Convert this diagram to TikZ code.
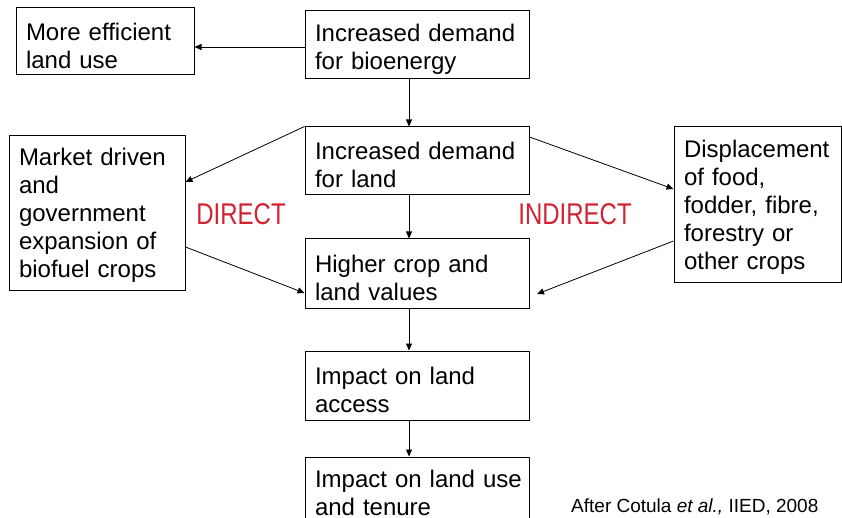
\documentclass[tikz,border=0pt]{standalone}
\usepackage{fontspec}
\setmainfont{Liberation Sans}
\usetikzlibrary{arrows.meta}
\definecolor{dirred}{RGB}{210,35,50}
\newcommand{\dn}{\rule{0pt}{26pt}}
\begin{document}
\begin{tikzpicture}[x=1pt,y=-1pt,
  box/.style={draw=black,line width=1pt,rectangle,align=left,inner xsep=10pt,inner ysep=0pt,
    font=\fontsize{24}{28}\selectfont},
  conn/.style={line width=0.8pt,-{Triangle[length=7pt,width=6pt]}},
  tag/.style={text=dirred,font=\fontsize{30}{32}\selectfont,xscale=0.8,inner sep=0pt}]
\useasboundingbox (0,0) rectangle (842,518);
\clip (0,0) rectangle (842,518);
\node[box,minimum width=178pt,minimum height=67pt,text width=158pt] (eff) at (105,41.5) {\dn More efficient\\land use};
\node[box,minimum width=224pt,minimum height=68pt,text width=204pt] (bio) at (417,45) {\dn Increased demand\\for bioenergy};
\node[box,minimum width=224pt,minimum height=68pt,text width=204pt] (land) at (417,161) {\dn Increased demand\\for land};
\node[box,minimum width=176pt,minimum height=154pt,text width=156pt] (mkt) at (97,213) {\rule{0pt}{22pt}Market driven\\and\\government\\expansion of\\biofuel crops};
\node[box,minimum width=167pt,minimum height=155pt,text width=147pt] (disp) at (757.5,204.5) {\rule{0pt}{22pt}Displacement\\of food,\\fodder, fibre,\\forestry or\\other crops};
\node[box,minimum width=224pt,minimum height=69pt,text width=204pt] (high) at (417,273.5) {\dn Higher crop and\\land values};
\node[box,minimum width=224pt,minimum height=69pt,text width=204pt] (acc) at (417,385.5) {\dn Impact on land\\access};
\node[box,minimum width=224pt,minimum height=72pt,text width=204pt] (use) at (417,493) {\mbox{Impact on land use}\\and tenure};
\node[tag] (direct) at (241,214) {DIRECT};
\node[tag] (indirect) at (575,214) {INDIRECT};
\node[anchor=base west,inner sep=0pt,font=\fontsize{19}{22}\selectfont] (cite) at (571,512) {After Cotula \textit{et al.,} IIED, 2008};
\draw[conn] (bio.west |- 0,47) -- (eff.east |- 0,47);
\draw[conn] ([xshift=-8pt]bio.south) -- ([xshift=-8pt]land.north);
\draw[conn] (land.north west) -- (mkt.east |- 0,182);
\draw[conn] ([xshift=-8pt]land.south) -- ([xshift=-8pt]high.north);
\draw[conn] (mkt.east |- 0,247) -- (high.west |- 0,293);
\draw[conn] (land.east |- 0,137) -- (disp.west |- 0,189);
\coordinate (hr) at (537,294);
\draw[conn] (disp.west |- 0,241) -- (hr);
\draw[conn] ([xshift=-8pt]high.south) -- ([xshift=-8pt]acc.north);
\draw[conn] ([xshift=-8pt]acc.south) -- ([xshift=-8pt]use.north);
\end{tikzpicture}
\end{document}
